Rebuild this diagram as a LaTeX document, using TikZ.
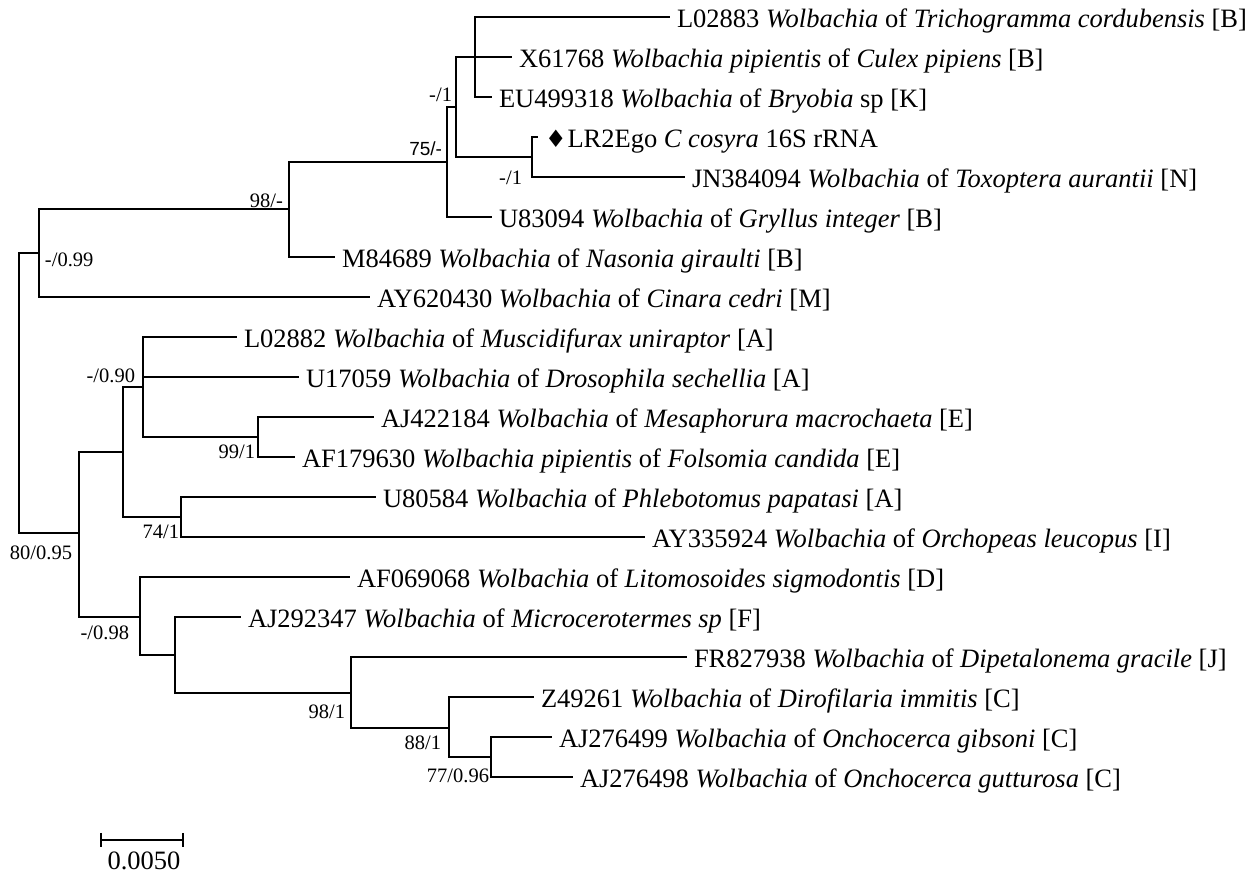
\documentclass[tikz,border=0pt]{standalone}
\usepackage{fontspec}
\setmainfont{Liberation Serif}
\newfontfamily\altsans{Liberation Sans}
\newfontfamily\diamondfont{DejaVu Sans}
\usetikzlibrary{calc}
\newcommand{\wol}{\textit{Wolbachia}}
\newcommand{\querymark}{{\diamondfont\fontsize{12}{12}\selectfont ♦}\hspace{0.5pt}}
\tikzset{
  tree diagram/.style={x=0.5pt, y=-0.5pt, line width=1pt, line join=miter},
  leaf/.style={anchor=west, inner xsep=3.5pt, inner ysep=0pt, outer sep=0pt,
    text height=10.5pt, text depth=0pt, font=\fontsize{13.25}{15}\selectfont},
  support/.style={inner sep=0pt, outer sep=0pt, font=\fontsize{10.25}{12}\selectfont},
  support sans/.style={support, font=\altsans\fontsize{9.5}{11}\selectfont},
  scalelabel/.style={inner sep=0pt, outer sep=0pt, anchor=base, font=\fontsize{13.25}{15}\selectfont}
}
\begin{document}
\begin{tikzpicture}[tree diagram]
\useasboundingbox (0,0) rectangle (1260,876);
% internal nodes
\coordinate (root) at (19,393);
\coordinate (A) at (39,253);
\coordinate (C) at (289,209);
\coordinate (D) at (447,162);
\coordinate (E) at (456,107);
\coordinate (F) at (475,57);
\coordinate (G) at (532,157);
\coordinate (B) at (79,533);
\coordinate (H) at (123,452);
\coordinate (I) at (143,387);
\coordinate (L) at (258,437);
\coordinate (J) at (181,517);
\coordinate (K) at (140,617);
\coordinate (M) at (175,655);
\coordinate (N) at (351,693);
\coordinate (O) at (449,728);
\coordinate (P) at (491,757);
% leaves
\node[leaf] (L02883) at (670,17) {L02883 \wol{} of \textit{Trichogramma cordubensis} [B]};
\node[leaf] (X61768) at (512,57) {X61768 \textit{Wolbachia pipientis} of \textit{Culex pipiens} [B]};
\node[leaf] (EU499318) at (492,97) {EU499318 \wol{} of \textit{Bryobia} sp [K]};
\node[leaf] (LR2Ego) at (538,137) {\querymark LR2Ego \textit{C cosyra} 16S rRNA};
\node[leaf] (JN384094) at (685,177) {JN384094 \wol{} of \textit{Toxoptera aurantii} [N]};
\node[leaf] (U83094) at (492,217) {U83094 \wol{} of \textit{Gryllus integer} [B]};
\node[leaf] (M84689) at (335,257) {M84689 \wol{} of \textit{Nasonia giraulti} [B]};
\node[leaf] (AY620430) at (370,297) {AY620430 \wol{} of \textit{Cinara cedri} [M]};
\node[leaf] (L02882) at (237,337) {L02882 \wol{} of \textit{Muscidifurax uniraptor} [A]};
\node[leaf] (U17059) at (299,377) {U17059 \wol{} of \textit{Drosophila sechellia} [A]};
\node[leaf] (AJ422184) at (374,417) {AJ422184 \wol{} of \textit{Mesaphorura macrochaeta} [E]};
\node[leaf] (AF179630) at (295,457) {AF179630 \textit{Wolbachia pipientis} of \textit{Folsomia candida} [E]};
\node[leaf] (U80584) at (376,497) {U80584 \wol{} of \textit{Phlebotomus papatasi} [A]};
\node[leaf] (AY335924) at (645,537) {AY335924 \wol{} of \textit{Orchopeas leucopus} [I]};
\node[leaf] (AF069068) at (350,577) {AF069068 \wol{} of \textit{Litomosoides sigmodontis} [D]};
\node[leaf] (AJ292347) at (241,617) {AJ292347 \wol{} of \textit{Microcerotermes sp} [F]};
\node[leaf] (FR827938) at (687,657) {FR827938 \wol{} of \textit{Dipetalonema gracile} [J]};
\node[leaf] (Z49261) at (534,697) {Z49261 \wol{} of \textit{Dirofilaria immitis} [C]};
\node[leaf] (AJ276499) at (552,737) {AJ276499 \wol{} of \textit{Onchocerca gibsoni} [C]};
\node[leaf] (AJ276498) at (573,777) {AJ276498 \wol{} of \textit{Onchocerca gutturosa} [C]};
% branches
\draw (A) -| (root) |- (B);
\draw (A) |- (C);
\draw (A) |- (AY620430.west);
\draw (C) |- (D);
\draw (C) |- (M84689.west);
\draw (D) |- (E);
\draw (D) |- (U83094.west);
\draw (E) |- (F);
\draw (E) |- (G);
\draw (F) |- (L02883.west);
\draw (F) |- (X61768.west);
\draw (F) |- (EU499318.west);
\draw (G) |- (LR2Ego.west);
\draw (G) |- (JN384094.west);
\draw (B) |- (H);
\draw (B) |- (K);
\draw (H) |- (I);
\draw (H) |- (J);
\draw (I) |- (L02882.west);
\draw (I) |- (U17059.west);
\draw (I) |- (L);
\draw (L) |- (AJ422184.west);
\draw (L) |- (AF179630.west);
\draw (J) |- (U80584.west);
\draw (J) |- (AY335924.west);
\draw (K) |- (AF069068.west);
\draw (K) |- (M);
\draw (M) |- (AJ292347.west);
\draw (M) |- (N);
\draw (N) |- (FR827938.west);
\draw (N) |- (O);
\draw (O) |- (Z49261.west);
\draw (O) |- (P);
\draw (P) |- (AJ276499.west);
\draw (P) |- (AJ276498.west);
% support values
\node[support, anchor=base west] (sA) at (45,267) {-/0.99};
\node[support, anchor=base east] (sC) at (283,208) {98/-};
\node[support sans, anchor=base east] (sD) at (442,156) {75/-};
\node[support, anchor=base east] (sE) at (452,102) {-/1};
\node[support, anchor=base east] (sG) at (522,185) {-/1};
\node[support, anchor=base east] (sI) at (135,383) {-/0.90};
\node[support, anchor=base east] (sL) at (255,459) {99/1};
\node[support, anchor=base east] (sJ) at (179,539) {74/1};
\node[support, anchor=base east] (sB) at (72,560) {80/0.95};
\node[support, anchor=base east] (sK) at (129,640) {-/0.98};
\node[support, anchor=base east] (sN) at (345,719) {98/1};
\node[support, anchor=base east] (sO) at (441,750) {88/1};
\node[support, anchor=base east] (sP) at (489,783) {77/0.96};
% scale bar
\coordinate (barL) at (101,840);
\coordinate (barR) at (183,840);
\draw (barL) -- (barR);
\draw ($(barL)+(0,-7)$) -- ($(barL)+(0,7)$);
\draw ($(barR)+(0,-7)$) -- ($(barR)+(0,7)$);
\node[scalelabel] (barlabel) at (144,870) {0.0050};
\end{tikzpicture}
\end{document}
